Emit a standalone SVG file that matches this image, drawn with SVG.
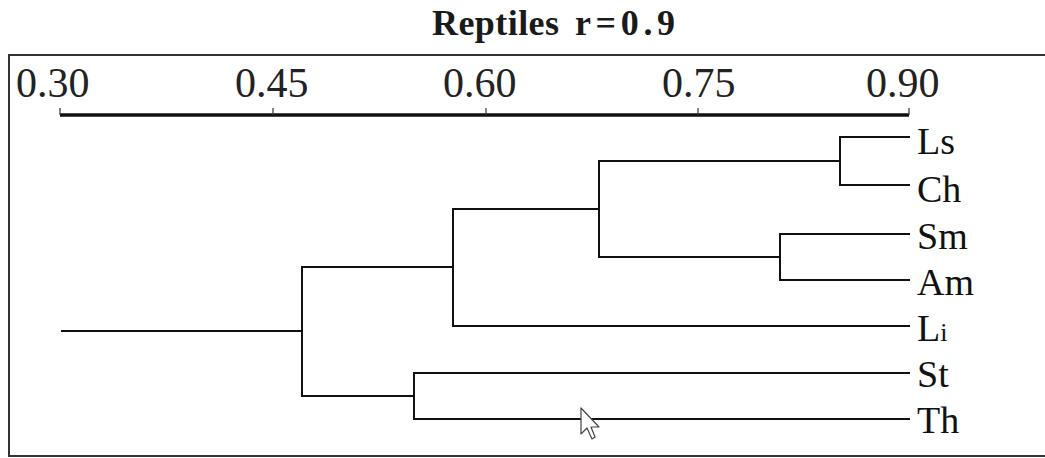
<svg xmlns="http://www.w3.org/2000/svg" width="1045" height="458" viewBox="0 0 1045 458">
<style>
.frame{fill:none;stroke:#333;stroke-width:2}
.axis{stroke:#111;stroke-width:3.5;fill:none}
.tick{stroke:#333;stroke-width:1.2}
.num{font-family:"Liberation Serif",serif;font-size:42px;fill:#222}
.title{font-family:"Liberation Serif",serif;font-size:36px;font-weight:bold;fill:#1a1a1a}
.br{fill:none;stroke:#111;stroke-width:2;stroke-linecap:square}
.leaf{font-family:"Liberation Serif",serif;font-size:38px;fill:#111}
</style>
<rect width="1045" height="458" fill="#fff"/>
<g id="title">
<text class="title" x="432" y="35" textLength="127" lengthAdjust="spacing">Reptiles</text>
<text class="title" x="575" y="35" textLength="100" lengthAdjust="spacing">r=0.9</text>
</g>
<rect class="frame" x="9" y="55" width="1045" height="401"/>
<g id="axis">
<line class="axis" x1="60" y1="115" x2="909" y2="115"/>
<line class="tick" x1="60" y1="108" x2="60" y2="115"/>
<line class="tick" x1="273" y1="108" x2="273" y2="115"/>
<line class="tick" x1="486" y1="108" x2="486" y2="115"/>
<line class="tick" x1="698" y1="108" x2="698" y2="115"/>
<line class="tick" x1="909" y1="108" x2="909" y2="115"/>
<text class="num" x="16" y="97">0.30</text>
<text class="num" x="235" y="97">0.45</text>
<text class="num" x="443" y="97">0.60</text>
<text class="num" x="662" y="97">0.75</text>
<text class="num" x="866" y="97">0.90</text>
</g>
<g id="connectors">
<path class="br" d="M840,137 H909 M840,185 H909 M840,137 V185"/>
<path class="br" d="M780,234 H909 M780,280 H909 M780,234 V280"/>
<path class="br" d="M599,161 H840 M599,257 H780 M599,161 V257"/>
<path class="br" d="M453,209 H599 M453,326 H909 M453,209 V326"/>
<path class="br" d="M414,373 H909 M414,419 H909 M414,373 V419"/>
<path class="br" d="M302,267 H453 M302,396 H414 M302,267 V396"/>
<path class="br" d="M62,331 H302"/>
</g>
<g id="node-Ls"><text class="leaf" x="917" y="154">Ls</text></g>
<g id="node-Ch"><text class="leaf" x="917" y="202">Ch</text></g>
<g id="node-Sm"><text class="leaf" x="917" y="249">Sm</text></g>
<g id="node-Am"><text class="leaf" x="917" y="295">Am</text></g>
<g id="node-Li"><text class="leaf" x="917" y="341">L<tspan font-size="26">i</tspan></text></g>
<g id="node-St"><text class="leaf" x="917" y="387">St</text></g>
<g id="node-Th"><text class="leaf" x="917" y="433">Th</text></g>
<g id="cursor">
<path d="M581,408 V434 L587,428 L592,439 L595,437 L591,427 L599,427 Z" fill="#fff" stroke="#444" stroke-width="1.2" stroke-linejoin="round"/>
</g>
</svg>
